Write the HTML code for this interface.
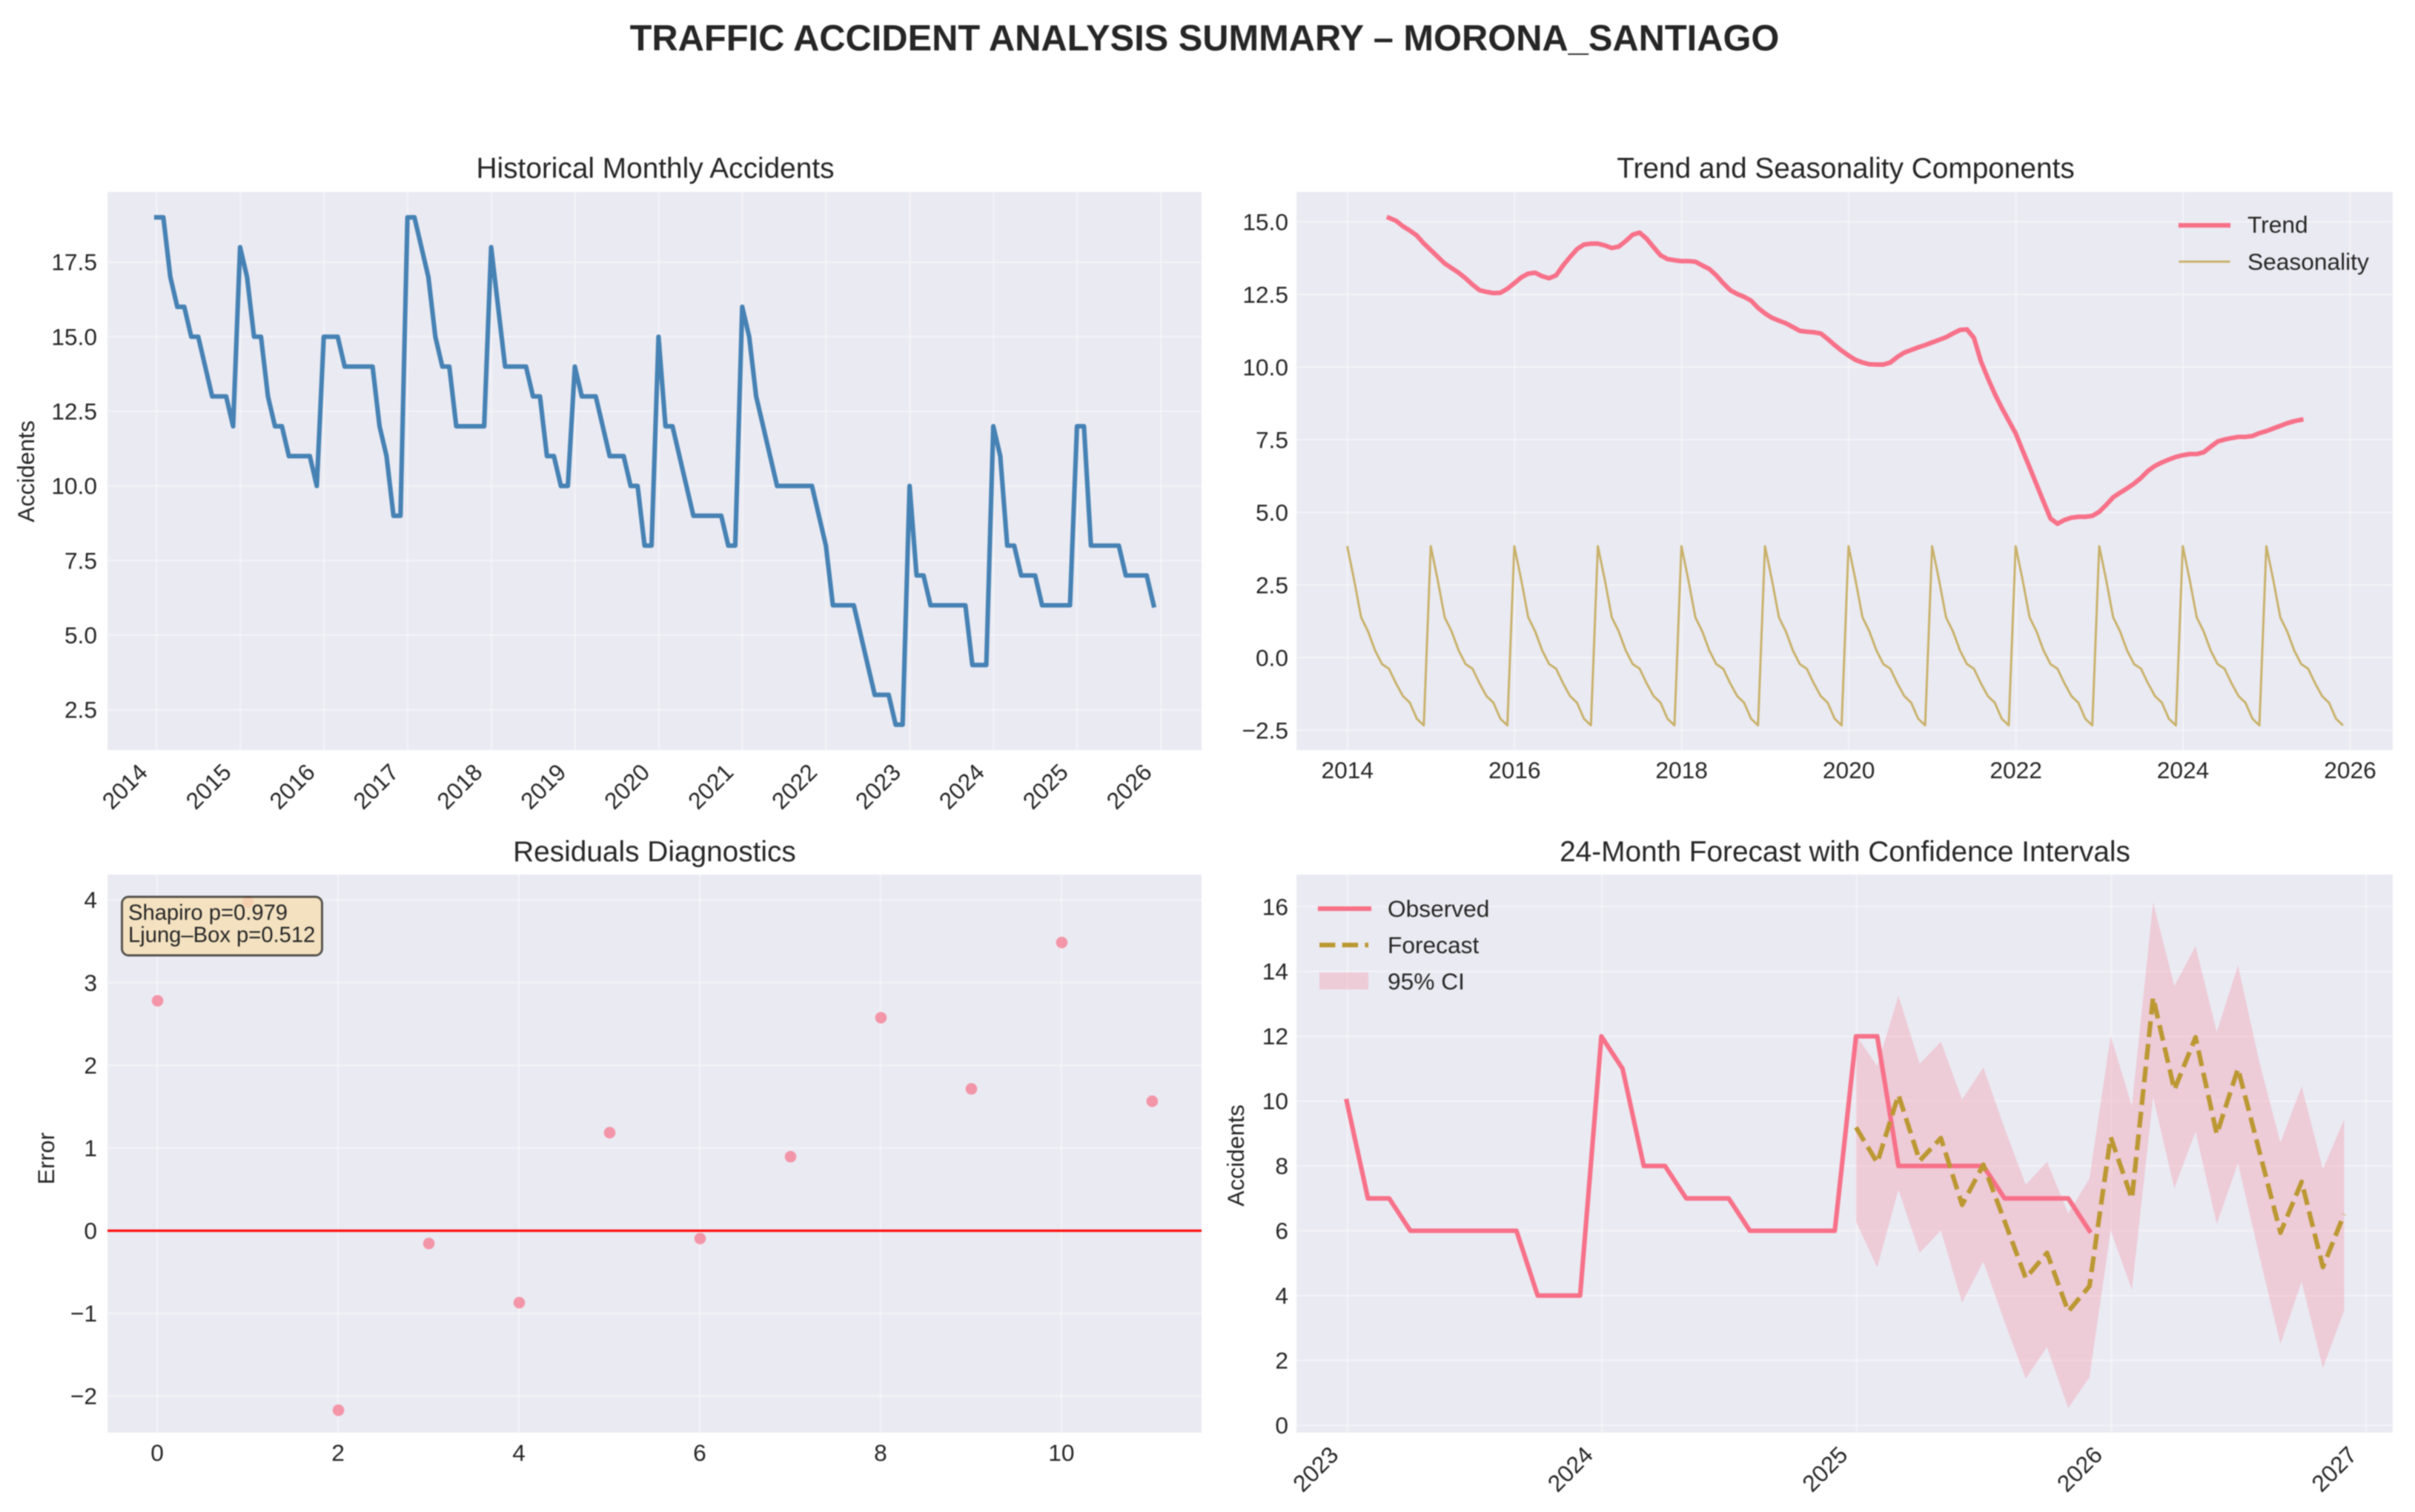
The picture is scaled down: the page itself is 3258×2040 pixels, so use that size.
<!DOCTYPE html>
<html lang="en">
<head>
<meta charset="utf-8">
<title>Traffic Accident Analysis Summary – Morona_Santiago</title>
<style>
html,body{margin:0;padding:0;background:#fff;}
body{width:3258px;height:2040px;overflow:hidden;}
svg{display:block;filter:blur(0.7px);}
text{font-family:"Liberation Sans",Arial,sans-serif;fill:#262626;}
</style>
</head>
<body>
<svg id="figure" xmlns="http://www.w3.org/2000/svg" width="3258" height="2040" viewBox="0 0 3258 2040">
<defs>
<clipPath id="clip-history"><rect x="145" y="259" width="1476" height="753"/></clipPath>
<clipPath id="clip-trend"><rect x="1749" y="259" width="1479" height="753"/></clipPath>
<clipPath id="clip-residual"><rect x="145" y="1180" width="1476" height="753"/></clipPath>
<clipPath id="clip-forecast"><rect x="1749" y="1180" width="1479" height="753"/></clipPath>
</defs>
<rect x="0" y="0" width="3258" height="2040" fill="#ffffff"/>
<text x="1625" y="68" text-anchor="middle" font-size="48.8" font-weight="700">TRAFFIC ACCIDENT ANALYSIS SUMMARY – MORONA_SANTIAGO</text>

<g id="panel-history">
<rect x="145" y="259" width="1476" height="753" fill="#eaeaf2"/>
<g id="history-grid"></g>
<g id="history-marks" clip-path="url(#clip-history)"></g>
<g id="history-ticks"></g>
<text x="884" y="240" text-anchor="middle" font-size="38.8">Historical Monthly Accidents</text>
<text transform="translate(46,636) rotate(-90)" text-anchor="middle" font-size="31.7">Accidents</text>
</g>

<g id="panel-trend">
<rect x="1749" y="259" width="1479" height="753" fill="#eaeaf2"/>
<g id="trend-grid"></g>
<g id="trend-marks" clip-path="url(#clip-trend)"></g>
<g id="trend-ticks"></g>
<text x="2490" y="240" text-anchor="middle" font-size="38.8">Trend and Seasonality Components</text>
<g>
<line x1="2942" y1="304" x2="3006" y2="304" stroke="#f77189" stroke-width="6.2" stroke-linecap="square"/>
<text x="3032" y="314" font-size="31.7">Trend</text>
<line x1="2941" y1="353" x2="3007" y2="353" stroke="#bb9832" stroke-opacity="0.7" stroke-width="3" stroke-linecap="square"/>
<text x="3032" y="364" font-size="31.7">Seasonality</text>
</g>
</g>

<g id="panel-residual">
<rect x="145" y="1180" width="1476" height="753" fill="#eaeaf2"/>
<g id="residual-grid"></g>
<g id="residual-marks" clip-path="url(#clip-residual)"></g>
<g id="residual-ticks"></g>
<text x="883" y="1162" text-anchor="middle" font-size="38.8">Residuals Diagnostics</text>
<text transform="translate(73,1563) rotate(-90)" text-anchor="middle" font-size="31.7">Error</text>
<g>
<rect x="164.5" y="1210" width="270" height="79" rx="9" ry="9" fill="#f5deb3" fill-opacity="0.8" stroke="#000000" stroke-opacity="0.65" stroke-width="2.9"/>
<text x="173" y="1241" font-size="29.2">Shapiro p=0.979</text>
<text x="173" y="1271" font-size="29.2">Ljung–Box p=0.512</text>
</g>
</g>

<g id="panel-forecast">
<rect x="1749" y="1180" width="1479" height="753" fill="#eaeaf2"/>
<g id="forecast-grid"></g>
<g id="forecast-marks" clip-path="url(#clip-forecast)"></g>
<g id="forecast-ticks"></g>
<text x="2489" y="1162" text-anchor="middle" font-size="38.8">24-Month Forecast with Confidence Intervals</text>
<text transform="translate(1678,1559) rotate(-90)" text-anchor="middle" font-size="31.7">Accidents</text>
<g>
<line x1="1781" y1="1226" x2="1847" y2="1226" stroke="#f77189" stroke-width="6.2" stroke-linecap="square"/>
<text x="1872" y="1237" font-size="31.7">Observed</text>
<line x1="1780" y1="1275" x2="1846" y2="1275" stroke="#bb9832" stroke-width="6.2" stroke-dasharray="21.4 9.3"/>
<text x="1872" y="1286" font-size="31.7">Forecast</text>
<rect x="1780" y="1312" width="66" height="23" fill="#f77189" fill-opacity="0.25"/>
<text x="1872" y="1335" font-size="31.7">95% CI</text>
</g>
</g>
</svg>

<script>
/* ---------- Historical monthly accidents, Jan 2014 onward ---------- */
const historyStartYear = 2014;
const historyValues = [
  19,19,17,16,16,15,15,14,13,13,13,12,
  18,17,15,15,13,12,12,11,11,11,11,10,
  15,15,15,14,14,14,14,14,12,11,9,9,
  19,19,18,17,15,14,14,12,12,12,12,12,
  18,16,14,14,14,14,13,13,11,11,10,10,
  14,13,13,13,12,11,11,11,10,10,8,8,
  15,12,12,11,10,9,9,9,9,9,8,8,
  16,15,13,12,11,10,10,10,10,10,10,9,
  8,6,6,6,6,5,4,3,3,3,2,2,
  10,7,7,6,6,6,6,6,6,4,4,4,
  12,11,8,8,7,7,7,6,6,6,6,6,
  12,12,8,8,8,8,8,7,7,7,7,6
];
const historyYearTicks = [2014,2015,2016,2017,2018,2019,2020,2021,2022,2023,2024,2025,2026];
const historyValueTicks = [2.5,5,7.5,10,12.5,15,17.5];

/* ---------- Trend and seasonality ---------- */
const trendStartMonth = 6;
const trendValues = [
  15.14,15.04,14.85,14.70,14.53,14.26,14.03,13.80,13.57,13.41,13.25,13.06,
  12.84,12.65,12.59,12.55,12.56,12.70,12.89,13.09,13.22,13.25,13.13,13.06,
  13.16,13.50,13.79,14.06,14.22,14.25,14.25,14.19,14.10,14.15,14.34,14.56,
  14.63,14.42,14.13,13.85,13.72,13.68,13.65,13.65,13.63,13.50,13.38,13.16,
  12.89,12.65,12.52,12.42,12.29,12.04,11.85,11.70,11.60,11.51,11.38,11.25,
  11.22,11.20,11.16,10.97,10.76,10.57,10.40,10.25,10.16,10.10,10.09,10.09,
  10.16,10.35,10.50,10.59,10.68,10.76,10.85,10.94,11.03,11.16,11.28,11.30,
  11.01,10.21,9.62,9.08,8.60,8.16,7.72,7.13,6.55,5.96,5.37,4.79,
  4.61,4.74,4.82,4.85,4.85,4.88,5.02,5.26,5.52,5.68,5.83,5.99,
  6.19,6.43,6.60,6.72,6.82,6.91,6.97,7.01,7.01,7.07,7.26,7.44,
  7.51,7.56,7.60,7.60,7.63,7.73,7.80,7.89,7.98,8.07,8.14,8.19
];
const seasonalCycle = [3.84,2.67,1.39,0.90,0.25,-0.22,-0.38,-0.88,-1.32,-1.55,-2.10,-2.33];
const seasonalYears = 12;
const trendYearTicks = [2014,2016,2018,2020,2022,2024,2026];
const trendValueTicks = [-2.5,0,2.5,5,7.5,10,12.5,15];

/* ---------- Residual diagnostics ---------- */
const residualValues = [2.785,3.98,-2.167,-0.15,-0.866,1.19,-0.09,0.90,2.58,1.72,3.49,1.57];
const residualIndexTicks = [0,2,4,6,8,10];
const residualValueTicks = [-2,-1,0,1,2,3,4];

/* ---------- Forecast ---------- */
const observedStartYear = 2023;
const observedValues = [
  10,7,7,6,6,6,6,6,6,4,4,4,
  12,11,8,8,7,7,7,6,6,6,6,6,
  12,12,8,8,8,8,8,7,7,7,7,6
];
const forecastStartYear = 2025;
const forecastValues = [
  9.19,8.10,10.19,8.16,8.86,6.80,8.04,6.30,4.54,5.32,3.51,4.29,
  8.89,6.99,13.20,10.35,11.97,8.98,11.00,8.47,5.94,7.51,4.88,6.51
];
const forecastUpper = [
  12.04,11.08,13.25,11.15,11.83,10.05,11.04,9.16,7.42,8.13,6.53,7.61,
  12.01,9.85,16.13,13.55,14.78,12.13,14.19,11.22,8.72,10.46,7.90,9.43
];
const forecastLower = [
  6.28,4.87,7.27,5.32,6.01,3.78,5.05,3.19,1.44,2.41,0.53,1.48,
  6.01,4.18,10.12,7.31,9.06,6.21,8.09,5.25,2.51,4.43,1.76,3.54
];
const forecastYearTicks = [2023,2024,2025,2026,2027];
const forecastValueTicks = [0,2,4,6,8,10,12,14,16];

/* ---------- Axis helpers ---------- */
const SVG_NS = 'http://www.w3.org/2000/svg';
function scale(d0, d1, r0, r1) {
  return function (v) { return r0 + (v - d0) * (r1 - r0) / (d1 - d0); };
}
function make(parentId, tag, attrs, name) {
  const el = document.createElementNS(SVG_NS, tag);
  for (const key in attrs) { el.setAttribute(key, attrs[key]); }
  
  
  document.getElementById(parentId).appendChild(el);
  return el;
}
function pathFrom(points) {
  return points.map(function (p, i) {
    return (i ? 'L' : 'M') + p[0].toFixed(2) + ' ' + p[1].toFixed(2);
  }).join(' ');
}
function fmt(v, digits) {
  return v.toFixed(digits).replace('-', '\u2212');
}
function drawGrid(id, box, xs, ys, xScale, yScale) {
  xs.forEach(function (v) {
    make(id, 'line', {x1: xScale(v), x2: xScale(v), y1: box.top, y2: box.bottom, stroke: '#ffffff', 'stroke-opacity': 0.32, 'stroke-width': 2.6}, 'vertical-gridline-' + v);
  });
  ys.forEach(function (v) {
    make(id, 'line', {x1: box.left, x2: box.right, y1: yScale(v), y2: yScale(v), stroke: '#ffffff', 'stroke-opacity': 0.32, 'stroke-width': 2.6}, 'horizontal-gridline-' + v);
  });
}
function drawYLabels(id, ticks, yScale, rightEdge, digits) {
  ticks.forEach(function (v) {
    const t = make(id, 'text', {x: rightEdge, y: yScale(v) + 11, 'text-anchor': 'end', 'font-size': 31.7}, 'y-tick-label-' + v);
    t.textContent = fmt(v, digits);
  });
}
function drawXLabels(id, ticks, xScale, baseline) {
  ticks.forEach(function (v) {
    const t = make(id, 'text', {x: xScale(v), y: baseline, 'text-anchor': 'middle', 'font-size': 31.7}, 'x-tick-label-' + v);
    t.textContent = String(v);
  });
}
function drawRotatedLabels(id, ticks, xScale, centerY) {
  ticks.forEach(function (v) {
    const cx = xScale(v) - 43;
    const t = make(id, 'text', {x: cx, y: centerY + 11, 'text-anchor': 'middle', 'font-size': 31.7, transform: 'rotate(-45 ' + cx + ' ' + centerY + ')'}, 'x-tick-label-' + v);
    t.textContent = String(v);
  });
}
/* Dates are month-end stamps, so each sample falls one day before its month. */
function monthToYear(startYear, i) { return startYear + i / 12 - 1 / 365; }

/* ---------- Panel 1: history ---------- */
(function () {
  const box = {left: 145, right: 1621, top: 259, bottom: 1012};
  const x = scale(2013.413, 2026.486, box.left, box.right);
  const y = scale(1.15, 19.85, box.bottom, box.top);
  drawGrid('history-grid', box, historyYearTicks, historyValueTicks, x, y);
  const pts = historyValues.map(function (v, i) { return [x(monthToYear(historyStartYear, i)), y(v)]; });
  make('history-marks', 'path', {d: pathFrom(pts), fill: 'none', stroke: '#4682b4', 'stroke-width': 6.2, 'stroke-linejoin': 'round', 'stroke-linecap': 'square'}, 'history-line');
  drawYLabels('history-ticks', historyValueTicks, y, 131, 1);
  drawRotatedLabels('history-ticks', historyYearTicks, x, 1061);
})();

/* ---------- Panel 2: trend and seasonality ---------- */
(function () {
  const box = {left: 1749, right: 3228, top: 259, bottom: 1012};
  const x = scale(2013.39, 2026.51, box.left, box.right);
  const y = scale(-3.18, 16.03, box.bottom, box.top);
  drawGrid('trend-grid', box, trendYearTicks, trendValueTicks, x, y);
  const trendPts = trendValues.map(function (v, i) { return [x(monthToYear(2014, trendStartMonth + i)), y(v)]; });
  const seasonalPts = [];
  for (let yr = 0; yr < seasonalYears; yr++) {
    seasonalCycle.forEach(function (v, m) { seasonalPts.push([x(monthToYear(2014, yr * 12 + m)), y(v)]); });
  }
  make('trend-marks', 'path', {d: pathFrom(seasonalPts), fill: 'none', stroke: '#bb9832', 'stroke-opacity': 0.7, 'stroke-width': 3, 'stroke-linejoin': 'round'}, 'seasonality-line');
  make('trend-marks', 'path', {d: pathFrom(trendPts), fill: 'none', stroke: '#f77189', 'stroke-width': 6.2, 'stroke-linejoin': 'round', 'stroke-linecap': 'square'}, 'trend-line');
  drawYLabels('trend-ticks', trendValueTicks, y, 1738, 1);
  drawXLabels('trend-ticks', trendYearTicks, x, 1050);
})();

/* ---------- Panel 3: residuals ---------- */
(function () {
  const box = {left: 145, right: 1621, top: 1180, bottom: 1933};
  const x = scale(-0.55, 11.55, box.left, box.right);
  const y = scale(-2.443, 4.307, box.bottom, box.top);
  drawGrid('residual-grid', box, residualIndexTicks, residualValueTicks, x, y);
  residualValues.forEach(function (v, i) {
    make('residual-marks', 'circle', {cx: x(i) + 0.5, cy: y(v) + 0.5, r: 7.8, fill: '#f77189', 'fill-opacity': 0.7}, 'residual-point-' + i);
  });
  make('residual-marks', 'line', {x1: box.left, x2: box.right, y1: y(0), y2: y(0), stroke: '#ff0000', 'stroke-opacity': 0.95, 'stroke-width': 3.2}, 'zero-reference-line');
  drawYLabels('residual-ticks', residualValueTicks, y, 131, 0);
  drawXLabels('residual-ticks', residualIndexTicks, x, 1971);
})();

/* ---------- Panel 4: forecast ---------- */
(function () {
  const box = {left: 1749, right: 3228, top: 1180, bottom: 1933};
  const x = scale(2022.80, 2027.105, box.left, box.right);
  const y = scale(-0.23, 16.99, box.bottom, box.top);
  drawGrid('forecast-grid', box, forecastYearTicks, forecastValueTicks, x, y);
  const upperPts = forecastUpper.map(function (v, i) { return [x(monthToYear(forecastStartYear, i)), y(v)]; });
  const lowerPts = forecastLower.map(function (v, i) { return [x(monthToYear(forecastStartYear, i)), y(v)]; }).reverse();
  make('forecast-marks', 'path', {d: pathFrom(upperPts.concat(lowerPts)) + ' Z', fill: '#f77189', 'fill-opacity': 0.25}, 'forecast-confidence-band');
  const obsPts = observedValues.map(function (v, i) { return [x(monthToYear(observedStartYear, i)), y(v)]; });
  make('forecast-marks', 'path', {d: pathFrom(obsPts), fill: 'none', stroke: '#f77189', 'stroke-width': 6.2, 'stroke-linejoin': 'round', 'stroke-linecap': 'square'}, 'observed-line');
  const fcPts = forecastValues.map(function (v, i) { return [x(monthToYear(forecastStartYear, i)), y(v)]; });
  make('forecast-marks', 'path', {d: pathFrom(fcPts), fill: 'none', stroke: '#bb9832', 'stroke-width': 6.2, 'stroke-linejoin': 'round', 'stroke-dasharray': '21.4 9.3'}, 'forecast-line');
  drawYLabels('forecast-ticks', forecastValueTicks, y, 1738, 0);
  drawRotatedLabels('forecast-ticks', forecastYearTicks, x, 1982);
})();
</script>
</body>
</html>
